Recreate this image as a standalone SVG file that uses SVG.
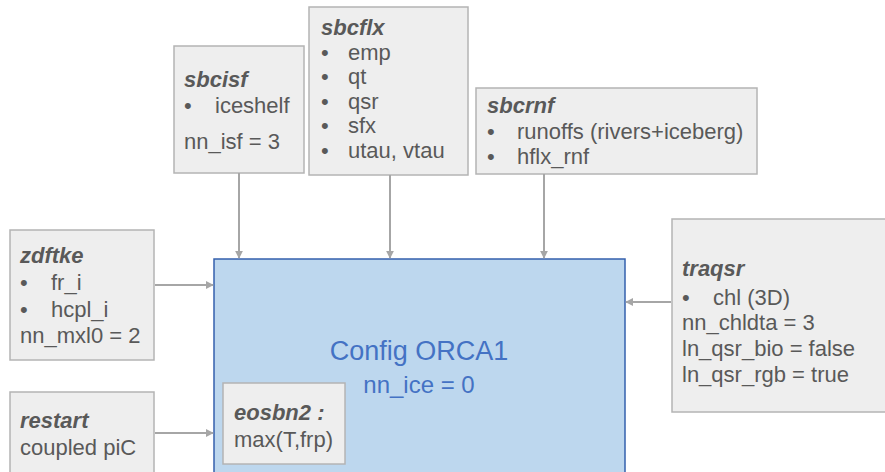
<svg xmlns="http://www.w3.org/2000/svg" width="885" height="472" viewBox="0 0 885 472">
<defs>
<style>
.box{fill:#eeeeee;stroke:#b4b4b4;stroke-width:1.5}
.main{fill:#bdd7ee;stroke:#3560ad;stroke-width:1.5}
text{font-family:"Liberation Sans",Arial,sans-serif;font-size:22px;fill:#595959}
.t{font-weight:bold;font-style:italic}
.big{fill:#4472c4;font-size:27px}
.mid{fill:#4472c4;font-size:24px}
.c{stroke:#a6a6a6;stroke-width:2;fill:none;marker-end:url(#ah)}
</style>
<marker id="ah" viewBox="0 0 10 10" refX="9" refY="5" markerWidth="4" markerHeight="4" orient="auto" markerUnits="strokeWidth">
<path d="M0,0 L10,5 L0,10 z" fill="#a6a6a6"/>
</marker>
</defs>
<rect width="885" height="472" fill="#ffffff"/>
<g id="main">
<rect class="main" x="214" y="259" width="411" height="230"/>
<text class="big" x="419" y="360" text-anchor="middle">Config ORCA1</text>
<text class="mid" x="419" y="393" text-anchor="middle">nn_ice = 0</text>
</g>
<g id="eosbn2">
<rect class="box" x="223" y="383" width="122" height="81"/>
<text class="t" x="234" y="420">eosbn2 :</text>
<text x="234" y="447">max(T,frp)</text>
</g>
<g id="sbcisf">
<rect class="box" x="174" y="46" width="130" height="127"/>
<text class="t" x="184" y="87">sbcisf</text>
<text x="184" y="113">•</text><text x="215" y="113">iceshelf</text>
<text x="184" y="149">nn_isf = 3</text>
</g>
<g id="sbcflx">
<rect class="box" x="309" y="7" width="159" height="168"/>
<text class="t" x="321" y="35">sbcflx</text>
<text x="321" y="60">•</text><text x="348" y="60">emp</text>
<text x="321" y="84">•</text><text x="348" y="84">qt</text>
<text x="321" y="109">•</text><text x="348" y="109">qsr</text>
<text x="321" y="133">•</text><text x="348" y="133">sfx</text>
<text x="321" y="158">•</text><text x="348" y="158">utau, vtau</text>
</g>
<g id="sbcrnf">
<rect class="box" x="476" y="88" width="281" height="86"/>
<text class="t" x="487" y="113">sbcrnf</text>
<text x="487" y="139">•</text><text x="517" y="139">runoffs (rivers+iceberg)</text>
<text x="487" y="164">•</text><text x="517" y="164">hflx_rnf</text>
</g>
<g id="zdftke">
<rect class="box" x="10" y="230" width="144" height="130"/>
<text class="t" x="20" y="263">zdftke</text>
<text x="20" y="290">•</text><text x="51" y="290">fr_i</text>
<text x="20" y="317">•</text><text x="51" y="317">hcpl_i</text>
<text x="20" y="343">nn_mxl0 = 2</text>
</g>
<g id="restart">
<rect class="box" x="10" y="392" width="144" height="100"/>
<text class="t" x="20" y="428">restart</text>
<text x="20" y="455">coupled piC</text>
</g>
<g id="traqsr">
<rect class="box" x="672" y="219" width="220" height="193"/>
<text class="t" x="682" y="276">traqsr</text>
<text x="682" y="305">•</text><text x="713" y="305">chl (3D)</text>
<text x="682" y="330">nn_chldta = 3</text>
<text x="682" y="356">ln_qsr_bio = false</text>
<text x="682" y="382">ln_qsr_rgb = true</text>
</g>
<g id="connectors">
<path class="c" d="M239,173 L239,258"/>
<path class="c" d="M390,175 L390,258"/>
<path class="c" d="M544,174 L544,258"/>
<path class="c" d="M155,285 L213,285"/>
<path class="c" d="M155,433 L213,433"/>
<path class="c" d="M671,302 L626,302"/>
</g>
</svg>
